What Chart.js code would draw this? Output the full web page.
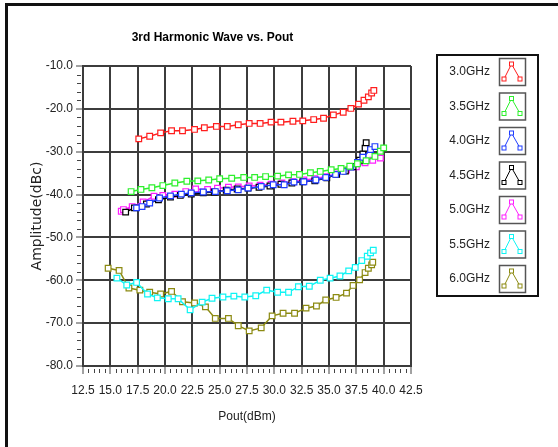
<!DOCTYPE html>
<html>
<head>
<meta charset="utf-8">
<script src="https://cdn.jsdelivr.net/npm/chart.js@4.4.1/dist/chart.umd.min.js"></script>
<style>
  html, body { margin: 0; padding: 0; background: #fff; }
  #wrap { position: relative; width: 558px; height: 447px; overflow: hidden; }
  #frame { position: absolute; left: 5px; top: 3px; width: 600px; height: 500px;
           border-left: 3px solid #111; border-top: 3px solid #111; }
  canvas { position: absolute; left: 0; top: 0; }
</style>
</head>
<body>
<div id="wrap">
  <canvas id="chart" width="558" height="447"></canvas>
  <div id="frame"></div>
</div>
<script>
var seriesNames = ["3.0GHz", "3.5GHz", "4.0GHz", "4.5GHz", "5.0GHz", "5.5GHz", "6.0GHz"];
var seriesColors = ["#ff1e1e", "#2ef02e", "#1f3cff", "#000000", "#ff1eff", "#10f4f4", "#8c8a12"];

var xTicks = [12.5, 15, 17.5, 20, 22.5, 25, 27.5, 30, 32.5, 35, 37.5, 40, 42.5];
var yTicks = [-80, -70, -60, -50, -40, -30, -20, -10];

// 3.0GHz
var pout30 = [17.6, 18.6, 19.6, 20.6, 21.6, 22.7, 23.6, 24.7, 25.7, 26.7, 27.7, 28.7, 29.7, 30.6, 31.7, 32.6, 33.6, 34.5, 35.4, 36.3, 37.0, 37.7, 38.2, 38.6, 38.9, 39.1];
var amp30 = [-27.0, -26.4, -25.6, -25.1, -25.1, -24.8, -24.4, -24.1, -24.1, -23.7, -23.4, -23.4, -23.1, -23.1, -22.9, -22.8, -22.5, -22.2, -21.4, -20.8, -19.9, -18.9, -18.0, -17.2, -16.3, -15.7];
// 3.5GHz
var pout35 = [16.9, 17.8, 18.8, 19.8, 20.9, 22.0, 23.0, 24.0, 25.0, 26.1, 27.2, 28.2, 29.2, 30.3, 31.3, 32.3, 33.3, 34.2, 35.2, 36.1, 36.9, 37.6, 38.4, 39.2, 39.7, 40.0];
var amp35 = [-39.3, -38.8, -38.4, -37.9, -37.3, -36.9, -36.8, -36.6, -36.3, -36.2, -36.0, -36.0, -35.8, -35.7, -35.4, -35.3, -34.9, -34.6, -34.2, -33.9, -33.4, -32.8, -32.1, -31.1, -29.9, -29.1];
// 4.0GHz
var pout40 = [17.4, 17.9, 18.6, 19.5, 20.5, 21.5, 22.4, 23.5, 24.6, 25.7, 26.7, 27.6, 28.8, 29.9, 30.9, 31.8, 32.7, 33.8, 34.7, 35.6, 36.3, 37.0, 37.6, 38.1, 38.8, 39.2];
var amp40 = [-43.1, -42.8, -42.0, -40.8, -40.3, -39.9, -39.6, -39.4, -39.3, -39.1, -38.9, -38.5, -38.1, -37.7, -37.7, -37.1, -37.0, -36.6, -36.0, -35.3, -34.6, -33.6, -32.5, -31.3, -29.5, -28.8];
// 4.5GHz
var pout45 = [16.4, 17.2, 18.3, 19.4, 20.5, 21.4, 22.4, 23.5, 24.5, 25.6, 26.6, 27.6, 28.6, 29.6, 30.6, 31.6, 32.6, 33.7, 34.8, 35.7, 36.5, 37.2, 37.8, 38.1, 38.3, 38.4];
var amp45 = [-44.1, -43.1, -42.2, -41.2, -40.6, -40.2, -39.9, -39.6, -39.4, -39.0, -38.7, -38.5, -38.3, -38.0, -37.6, -37.3, -37.0, -36.8, -36.1, -35.3, -34.5, -33.5, -32.0, -30.5, -29.2, -27.9];
// 5.0GHz
var pout50 = [16.0, 16.2, 17.0, 18.0, 19.0, 19.8, 20.9, 21.9, 22.8, 23.9, 24.8, 25.8, 26.7, 27.7, 28.7, 29.7, 30.7, 31.7, 32.7, 33.7, 34.7, 35.7, 36.6, 37.5, 38.3, 39.0, 39.7];
var amp50 = [-43.9, -43.5, -42.8, -41.7, -40.4, -40.2, -39.9, -39.3, -38.7, -38.8, -38.5, -38.3, -38.2, -38.0, -37.8, -37.6, -37.3, -37.0, -36.6, -36.3, -35.8, -35.2, -34.3, -33.5, -32.6, -32.0, -31.5];
// 5.5GHz
var pout55 = [15.6, 16.5, 17.4, 18.4, 19.3, 20.3, 21.2, 22.3, 23.4, 24.3, 25.3, 26.3, 27.3, 28.3, 29.3, 30.3, 31.3, 32.2, 33.2, 34.2, 35.1, 36.0, 36.8, 37.4, 38.0, 38.5, 38.8, 39.05];
var amp55 = [-59.5, -61.1, -60.5, -63.2, -64.1, -64.3, -64.3, -66.9, -65.1, -64.2, -63.9, -63.7, -63.9, -63.6, -62.3, -62.8, -62.8, -61.5, -61.4, -60.0, -59.5, -59.0, -57.8, -57.0, -55.4, -54.4, -53.6, -53.0];
// 6.0GHz
var pout60 = [14.8, 15.8, 16.7, 17.7, 18.6, 19.6, 20.6, 21.6, 22.7, 23.7, 24.6, 25.8, 26.7, 27.7, 28.8, 29.8, 30.8, 31.85, 32.9, 33.85, 34.7, 35.65, 36.6, 37.2, 37.8, 38.3, 38.6, 38.9, 39.0];
var amp60 = [-57.2, -57.7, -61.8, -62.3, -62.8, -63.2, -62.6, -65.0, -65.3, -66.2, -68.9, -68.9, -70.6, -71.8, -71.1, -68.3, -67.7, -67.7, -66.5, -66.0, -64.6, -64.0, -63.0, -61.2, -59.9, -58.2, -57.2, -56.4, -55.8];

var poutSets = [pout30, pout35, pout40, pout45, pout50, pout55, pout60];
var ampSets = [amp30, amp35, amp40, amp45, amp50, amp55, amp60];

var sans = "'Liberation Sans', Arial, sans-serif";

function pts(xs, ys) {
  return xs.map(function (x, i) { return {x: x, y: ys[i]}; });
}

var datasets = seriesNames.map(function (name, i) {
  return {
    label: name,
    data: pts(poutSets[i], ampSets[i]),
    borderColor: seriesColors[i],
    borderWidth: 1.5,
    pointStyle: 'rect',
    pointRadius: 4,
    pointBorderWidth: 1.2,
    pointBorderColor: seriesColors[i],
    pointBackgroundColor: '#ffffff',
    tension: 0,
    fill: false
  };
});

// small ticks between the labelled ones
var minorTicks = {
  id: 'minorTicks',
  afterDraw: function (chart) {
    var ctx = chart.ctx, xs = chart.scales.x, ys = chart.scales.y, a = chart.chartArea;
    ctx.save();
    ctx.strokeStyle = '#444';
    ctx.lineWidth = 1;
    ctx.beginPath();
    for (var i = 0; i <= 60; i++) {
      if (i % 5 === 0) continue;
      var px = Math.round(xs.getPixelForValue(12.5 + i * 0.5)) + 0.5;
      ctx.moveTo(px, a.bottom + 3);
      ctx.lineTo(px, a.bottom + 7);
    }
    for (var j = 0; j <= 35; j++) {
      if (j % 5 === 0) continue;
      var py = Math.round(ys.getPixelForValue(-80 + j * 2)) + 0.5;
      ctx.moveTo(a.left - 6, py);
      ctx.lineTo(a.left - 2, py);
    }
    ctx.stroke();
    ctx.restore();
  }
};

// boxed legend on the right, one icon per series
var boxLegend = {
  id: 'boxLegend',
  afterDraw: function (chart) {
    var ctx = chart.ctx;
    ctx.save();
    ctx.strokeStyle = '#111';
    ctx.lineWidth = 2;
    ctx.strokeRect(437, 55, 101, 241);
    chart.data.datasets.forEach(function (ds, i) {
      var cy = 72 + i * 34.5;
      ctx.font = '12px ' + sans;
      ctx.fillStyle = '#222';
      ctx.textAlign = 'right';
      ctx.textBaseline = 'middle';
      ctx.fillText(ds.label, 490, cy);

      var bx = 499, by = cy - 14;
      ctx.strokeStyle = '#555';
      ctx.lineWidth = 1.5;
      ctx.strokeRect(bx + 0.5, by + 0.5, 26, 27);

      var c = ds.borderColor;
      ctx.strokeStyle = c;
      ctx.lineWidth = 1;
      ctx.beginPath();
      ctx.moveTo(bx + 5, by + 21);
      ctx.lineTo(bx + 12.5, by + 6);
      ctx.lineTo(bx + 21, by + 21);
      ctx.stroke();
      ctx.fillStyle = '#fff';
      [[bx + 5, by + 21], [bx + 12.5, by + 6], [bx + 21, by + 21]].forEach(function (p) {
        ctx.fillRect(p[0] - 2, p[1] - 2, 4, 4);
        ctx.strokeRect(p[0] - 2, p[1] - 2, 4, 4);
      });
    });
    ctx.restore();
  }
};

var gridColor = '#3c3c3c';

new Chart(document.getElementById('chart'), {
  type: 'line',
  data: { datasets: datasets },
  options: {
    responsive: false,
    animation: false,
    layout: { padding: { left: 14, right: 147, top: 24, bottom: 19 } },
    plugins: {
      legend: { display: false },
      tooltip: { enabled: false },
      title: {
        display: true,
        text: '3rd Harmonic Wave vs. Pout',
        color: '#000',
        font: { family: sans, size: 12, weight: 'bold' },
        padding: { top: 6, bottom: 21.6 }
      }
    },
    scales: {
      x: {
        type: 'linear',
        min: 12.5,
        max: 42.5,
        afterBuildTicks: function (scale) {
          scale.ticks = xTicks.map(function (v) { return {value: v}; });
        },
        afterFit: function (scale) { scale.height = 62; },
        grid: { color: gridColor, lineWidth: 2, tickLength: 8, tickColor: '#444', tickWidth: 1 },
        border: { color: gridColor, width: 2 },
        ticks: {
          autoSkip: false, maxRotation: 0, padding: 9, color: '#222',
          font: { family: sans, size: 12 },
          callback: function (v) { return Number(v).toFixed(1); }
        },
        title: {
          display: true, text: 'Pout(dBm)', color: '#222',
          font: { family: sans, size: 12 }, padding: { top: 4, bottom: 4 }
        }
      },
      y: {
        min: -80,
        max: -10,
        afterBuildTicks: function (scale) {
          scale.ticks = yTicks.map(function (v) { return {value: v}; });
        },
        afterFit: function (scale) { scale.width = 69; },
        grid: { color: gridColor, lineWidth: 2, tickLength: 7, tickColor: '#444', tickWidth: 1 },
        border: { color: gridColor, width: 2 },
        ticks: {
          padding: 3, color: '#222',
          font: { family: sans, size: 12 },
          callback: function (v) { return Number(v).toFixed(1); }
        },
        title: {
          display: true, text: 'Amplitude(dBc)', color: '#222',
          font: { family: "'DejaVu Sans', sans-serif", size: 14 },
          padding: { top: 14.6, bottom: 4 }
        }
      }
    }
  },
  plugins: [minorTicks, boxLegend]
});
</script>
</body>
</html>
